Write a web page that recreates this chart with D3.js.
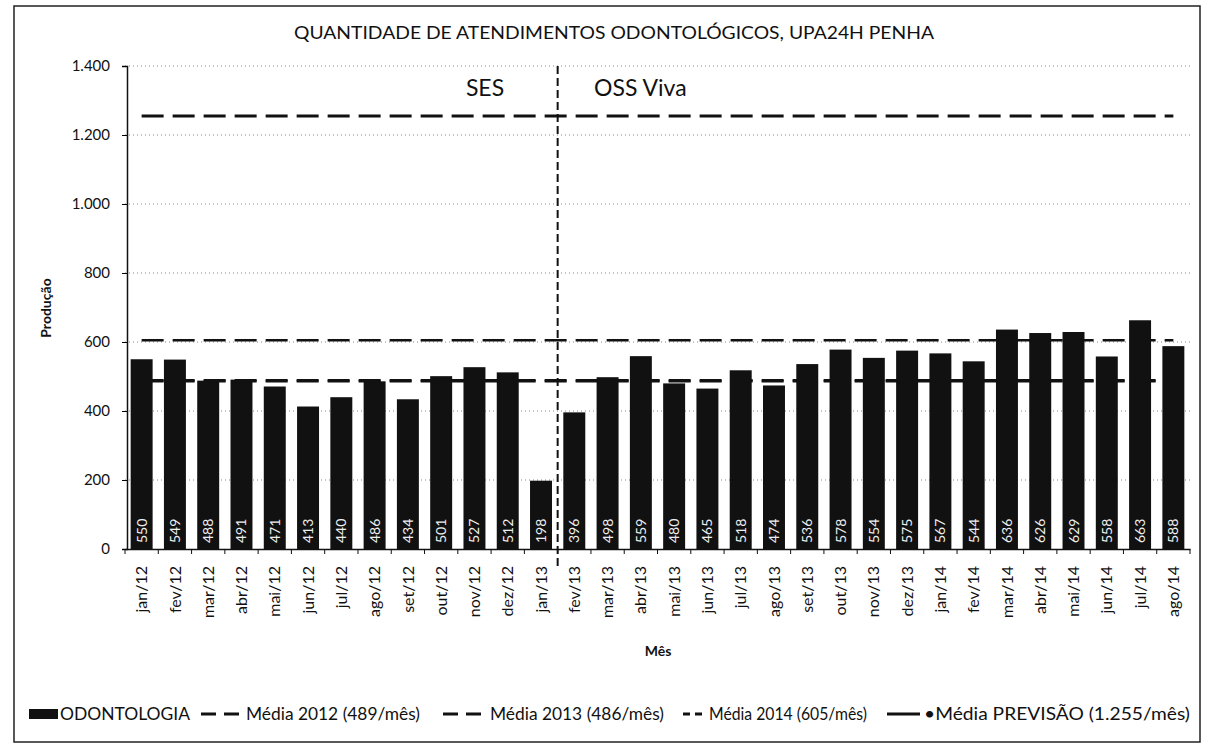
<!DOCTYPE html>
<html>
<head>
<meta charset="utf-8">
<script src="https://d3js.org/d3.v7.min.js"></script>
<style>
  html, body { margin: 0; padding: 0; background: #fff; }
  text { font-family: Lato, "Open Sans", sans-serif; fill: #111; }
</style>
</head>
<body>
<div id="chart"></div>
<script>
var width = 1205, height = 754;

// dados
var months = ["jan/12","fev/12","mar/12","abr/12","mai/12","jun/12","jul/12","ago/12","set/12","out/12","nov/12","dez/12",
              "jan/13","fev/13","mar/13","abr/13","mai/13","jun/13","jul/13","ago/13","set/13","out/13","nov/13","dez/13",
              "jan/14","fev/14","mar/14","abr/14","mai/14","jun/14","jul/14","ago/14"];
var values = [550,549,488,491,471,413,440,486,434,501,527,512,
              198,396,498,559,480,465,518,474,536,578,554,575,
              567,544,636,626,629,558,663,588];
var meanNames = ["Média 2012 (489/mês)", "Média 2013 (486/mês)", "Média 2014 (605/mês)", "Média PREVISÃO (1.255/mês)"];
var meanValues = [489, 486, 605, 1255];
var yTicks = [0, 200, 400, 600, 800, 1000, 1200, 1400];
var splitAfter = "jan/13";

var svg = d3.select('#chart').append('svg')
  .attr('width', width)
  .attr('height', height);

// moldura externa
svg.append('rect')
  .attr('x', 14).attr('y', 6)
  .attr('width', 1186).attr('height', 736)
  .attr('fill', 'none').attr('stroke', '#222').attr('stroke-width', 1.5);

var x = d3.scaleBand().domain(months).range([125, 1190]).paddingInner(0.34).paddingOuter(0.17);
var y = d3.scaleLinear().domain([0, 1400]).range([549, 66]);

// titulo
svg.append('text')
  .attr('x', 614).attr('y', 39)
  .attr('text-anchor', 'middle')
  .attr('textLength', 640).attr('lengthAdjust', 'spacingAndGlyphs')
  .style('font-size', '18px')
  .text('QUANTIDADE DE ATENDIMENTOS ODONTOLÓGICOS, UPA24H PENHA');

// grade
svg.append('g').selectAll('line')
  .data(yTicks.slice(1))
  .enter().append('line')
  .attr('x1', 125).attr('x2', 1190)
  .attr('y1', function(d) { return y(d); })
  .attr('y2', function(d) { return y(d); })
  .attr('stroke', '#888').attr('stroke-width', 1)
  .attr('stroke-dasharray', '1,3');

// barras
svg.append('g').selectAll('rect')
  .data(values)
  .enter().append('rect')
  .attr('x', function(d, i) { return x(months[i]); })
  .attr('y', function(d) { return y(d); })
  .attr('width', x.bandwidth())
  .attr('height', function(d) { return y(0) - y(d); })
  .attr('fill', '#111');

// rotulos das barras
svg.append('g').selectAll('text')
  .data(values)
  .enter().append('text')
  .attr('transform', function(d, i) {
    return 'translate(' + (x(months[i]) + x.bandwidth() / 2 + 5) + ',' + 543 + ') rotate(-90)';
  })
  .style('font-size', '14px')
  .style('fill', '#eee')
  .text(function(d) { return d; });

// linhas de media
var cx0 = x(months[0]) + x.bandwidth() / 2;
var cx1 = x(months[months.length - 1]) + x.bandwidth() / 2;
var meanDash = ['22,9', '22,9', '22,9', '22,9'];
var meanWidth = [2.5, 2.5, 2.5, 3];
svg.append('g').selectAll('line')
  .data(meanValues)
  .enter().append('line')
  .attr('x1', cx0).attr('x2', cx1)
  .attr('y1', function(d) { return y(d); })
  .attr('y2', function(d) { return y(d); })
  .attr('stroke', '#111')
  .attr('stroke-width', function(d, i) { return meanWidth[i]; })
  .attr('stroke-dasharray', function(d, i) { return meanDash[i]; });

// eixo y
var yAxis = svg.append('g')
  .attr('transform', 'translate(127,0)')
  .call(d3.axisLeft(y).tickValues(yTicks).tickSize(5).tickPadding(12)
    .tickFormat(function(d) { return d3.format(',')(d).replace(/,/g, '.'); }));
yAxis.select('.domain').attr('stroke', '#111').attr('stroke-width', 1.5);
yAxis.selectAll('text').style('font-size', '15px').style('font-family', 'Lato, sans-serif');

// eixo x
var xAxis = svg.append('g')
  .attr('transform', 'translate(0,' + y(0) + ')')
  .call(d3.axisBottom(x).tickSize(0).tickPadding(0));
xAxis.select('.domain').attr('stroke', '#111').attr('stroke-width', 1.5);
xAxis.selectAll('text')
  .attr('transform', 'rotate(-90)')
  .attr('text-anchor', 'end')
  .attr('x', -17).attr('y', 0).attr('dy', '0.35em')
  .style('font-size', '16px').style('font-family', 'Lato, sans-serif');

// marcas entre categorias
var step = x.step();
svg.append('g').selectAll('line')
  .data(d3.range(months.length + 1))
  .enter().append('line')
  .attr('x1', function(i) { return 125 + i * step; })
  .attr('x2', function(i) { return 125 + i * step; })
  .attr('y1', y(0)).attr('y2', y(0) + 5)
  .attr('stroke', '#111');

// divisao SES / OSS Viva
var splitX = x(splitAfter) + x.bandwidth() + x.step() * x.paddingInner() / 2;
svg.append('line')
  .attr('x1', splitX).attr('x2', splitX)
  .attr('y1', y(1400)).attr('y2', 568)
  .attr('stroke', '#111').attr('stroke-width', 2)
  .attr('stroke-dasharray', '8,4');

svg.append('text').attr('x', 485).attr('y', 96).attr('text-anchor', 'middle')
  .style('font-size', '23px').text('SES');
svg.append('text').attr('x', 594).attr('y', 96)
  .style('font-size', '23px').text('OSS Viva');

// titulos dos eixos
svg.append('text')
  .attr('transform', 'translate(51,308) rotate(-90)')
  .attr('text-anchor', 'middle')
  .style('font-size', '14px').style('font-weight', 'bold')
  .text('Produção');
svg.append('text')
  .attr('x', 658).attr('y', 656).attr('text-anchor', 'middle')
  .style('font-size', '14px').style('font-weight', 'bold')
  .text('Mês');

// legenda
var ly = 714;
var lg = svg.append('g');
lg.append('rect').attr('x', 29).attr('y', ly - 5).attr('width', 29).attr('height', 10).attr('fill', '#111');
lg.append('text').attr('x', 60).attr('y', ly + 6)
  .attr('textLength', 130).attr('lengthAdjust', 'spacingAndGlyphs')
  .style('font-size', '17px').text('ODONTOLOGIA');

var legendItems = [
  { sx: 201, sw: 38, dash: '15,8', tx: 246, tl: 174 },
  { sx: 443, sw: 40, dash: '15,8', tx: 490, tl: 174 },
  { sx: 683, sw: 19, dash: '7,5', tx: 709, tl: 158 },
  { sx: 887, sw: 33, dash: null, tx: 924, tl: 266 }
];
legendItems.forEach(function(it, i) {
  lg.append('line')
    .attr('x1', it.sx).attr('x2', it.sx + it.sw)
    .attr('y1', ly).attr('y2', ly)
    .attr('stroke', '#111').attr('stroke-width', 3)
    .attr('stroke-dasharray', it.dash);
  lg.append('text').attr('x', it.tx).attr('y', ly + 6)
    .attr('textLength', it.tl).attr('lengthAdjust', 'spacingAndGlyphs')
    .style('font-size', '17px')
    .text((i === 3 ? '•' : '') + meanNames[i]);
});
</script>
</body>
</html>
